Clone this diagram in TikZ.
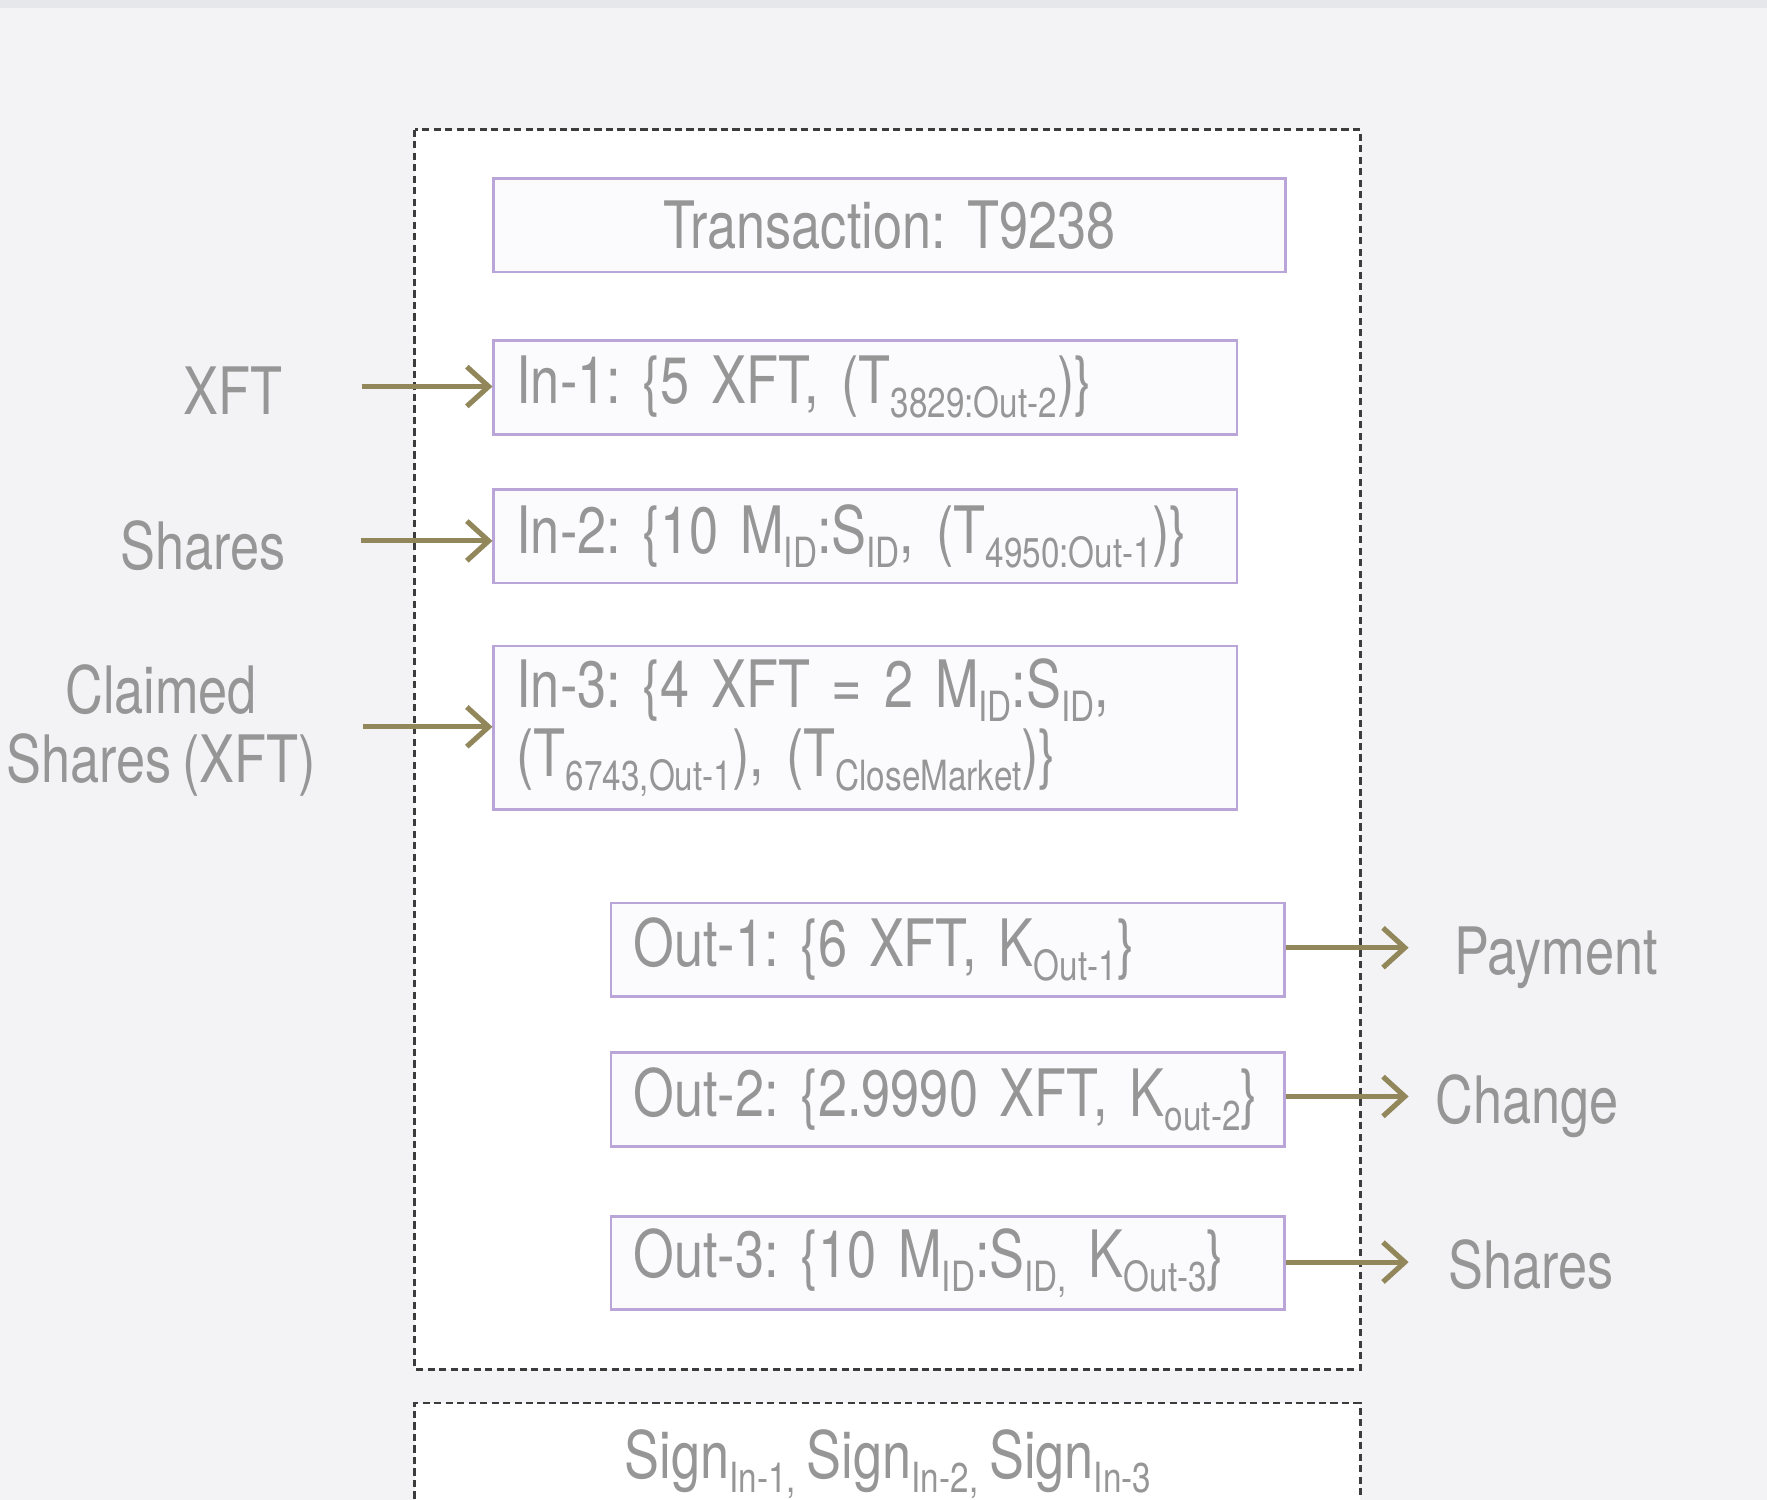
\documentclass[tikz,border=0pt]{standalone}
\usepackage{fontspec}
\setmainfont{TeX Gyre Heros}[FakeStretch=0.8, WordSpace=0.75]
\usepackage{xcolor}
\usepackage{tikz}
\usetikzlibrary{arrows.meta}
\usetikzlibrary{calc}

\definecolor{pagegray}{RGB}{243,242,244}
\definecolor{stripgray}{RGB}{229,231,235}
\definecolor{dashgray}{RGB}{60,60,60}
\definecolor{boxline}{RGB}{185,165,215}
\definecolor{boxfill}{RGB}{251,251,253}
\definecolor{arrowolive}{RGB}{145,135,90}
\definecolor{txtgray}{RGB}{150,150,150}

\newcommand{\lowsub}[1]{\raisebox{-3.6pt}{\fontsize{10.5}{11}\selectfont #1}}
\frenchspacing

\begin{document}
\begin{tikzpicture}[x=0.01cm, y=-0.01cm,
		every node/.style={font=\fontsize{16.5}{17.5}\selectfont\frenchspacing, text=txtgray},
		dashbox/.style={draw=dashgray, line width=0.75pt, dash pattern=on 1.8pt off 1.1pt, fill=white},
		field/.style={draw=boxline, line width=0.7pt, fill=boxfill, anchor=north west, inner xsep=0.2cm, inner ysep=0pt, align=left},
		flow/.style={draw=arrowolive, line width=1.3pt, -{Straight Barb[length=5.5pt,width=10pt]}}]
				\useasboundingbox (0,0) rectangle (1568,1331);
				\fill[pagegray] (0,0) rectangle (1568,1331);
				\fill[stripgray] (0,0) rectangle (1568,7);
				\draw[dashbox] (368,115) rectangle (1207,1215);
				\draw[dashbox] (368,1340) -- (368,1245) -- (1207,1245) -- (1207,1340);
				\node[field, align=center, text width=6.62cm, minimum height=0.83cm] (title) at (437,157) {Transaction: T9238};
				\node[field, text width=6.19cm, minimum height=0.83cm] (in1) at (437,301) {In-1: \{5 XFT, (T\lowsub{3829:Out-2})\}};
				\node[field, text width=6.19cm, minimum height=0.83cm] (in2) at (437,433) {In-2: \{10 M\lowsub{ID}:S\lowsub{ID}, (T\lowsub{4950:Out-1})\}};
				\node[field, text width=6.19cm, minimum height=1.45cm] (in3) at (437,572) {In-3: \{4 XFT = 2 M\lowsub{ID}:S\lowsub{ID},\\(T\lowsub{6743,Out-1}), (T\lowsub{CloseMarket})\}};
				\node[field, text width=5.57cm, minimum height=0.83cm] (out1) at (541,800) {\mbox{Out-1: \{6 XFT, K\lowsub{Out-1}\}}};
				\node[field, text width=5.57cm, minimum height=0.83cm] (out2) at (541,933) {\mbox{Out-2: \{2.9990 XFT, K\lowsub{out-2}\}}};
				\node[field, text width=5.57cm, minimum height=0.83cm] (out3) at (541,1078) {\mbox{Out-3: \{10 M\lowsub{ID}:S\lowsub{ID,} K\lowsub{Out-3}\}}};
				\node[anchor=base] (xftlbl) at (207,368) {XFT};
				\node[anchor=base] (shareslbl) at (180,505) {Shares};
				\node[align=center] (claimlbl) at (143,648) {Claimed\\Shares (XFT)};
				\node[anchor=base west, inner sep=0pt] (paylbl) at (1290,865) {Payment};
				\node[anchor=base west, inner sep=0pt] (changelbl) at (1273,997) {Change};
				\node[anchor=base west, inner sep=0pt] (sharesoutlbl) at (1285,1143) {Shares};
				\node[anchor=base] (signs) at (788,1312) {Sign\lowsub{In-1,} Sign\lowsub{In-2,} Sign\lowsub{In-3}};
				\coordinate (xftstart) at (321,343);
				\coordinate (sharesstart) at (320,480);
				\coordinate (claimstart) at (322,645);
				\coordinate (payend) at (1250,841);
				\coordinate (changeend) at (1250,973);
				\coordinate (sharesend) at (1250,1120);
				\draw[flow] (xftstart) -- (xftstart -| in1.west);
				\draw[flow] (sharesstart) -- (sharesstart -| in2.west);
				\draw[flow] (claimstart) -- (claimstart -| in3.west);
				\draw[flow] (out1.east |- payend) -- (payend);
				\draw[flow] (out2.east |- changeend) -- (changeend);
				\draw[flow] (out3.east |- sharesend) -- (sharesend);
		\end{tikzpicture}
\end{document}
